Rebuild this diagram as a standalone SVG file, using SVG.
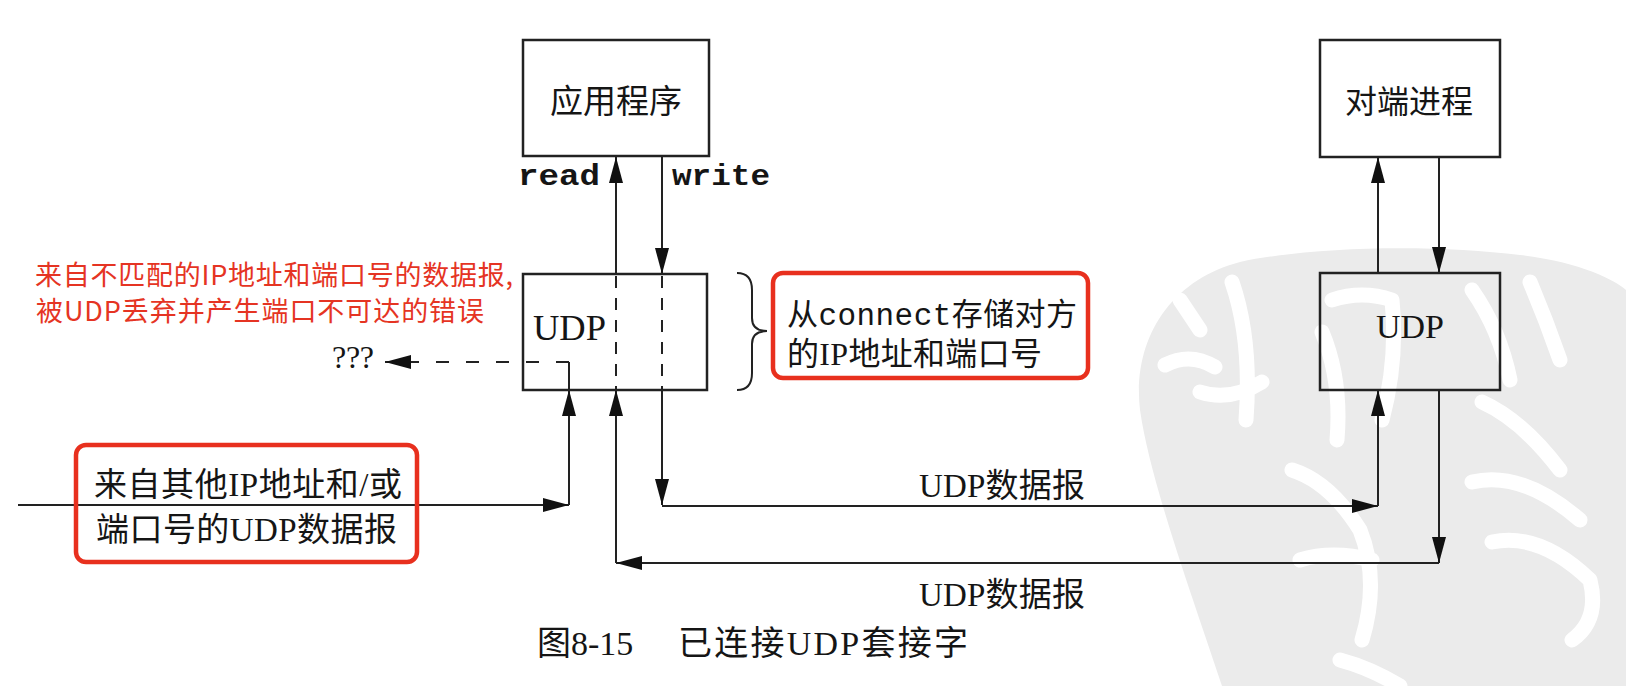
<svg xmlns="http://www.w3.org/2000/svg" width="1626" height="686" viewBox="0 0 1626 686">
<style>
.box{fill:none;stroke:#222;stroke-width:2.5}
.ln{fill:none;stroke:#222;stroke-width:2}
.dash{fill:none;stroke:#222;stroke-width:2;stroke-dasharray:12 10}
.hdash{fill:none;stroke:#222;stroke-width:2;stroke-dasharray:13 17}
.red{fill:none;stroke:#e8301e;stroke-width:4.5}
.t{font-family:"Liberation Serif","Noto Sans CJK SC",serif;fill:#151515}
.mono{font-family:"Liberation Mono",monospace;fill:#151515;font-weight:bold}
.mono2{font-family:"Liberation Mono",monospace;fill:#151515;font-weight:normal}
.rt{font-family:"Noto Sans CJK SC",sans-serif;fill:#e53423}
.wm{fill:none;stroke:#fff;stroke-width:15;stroke-linecap:round;stroke-linejoin:round}
</style>
<defs>
<marker id="ah" markerUnits="userSpaceOnUse" markerWidth="26" markerHeight="14" refX="26" refY="7" orient="auto">
<path d="M0,0 L26,7 L0,14 Z" fill="#111"/>
</marker>
</defs>
<rect width="1626" height="686" fill="#fff"/>
<g id="watermark">
<path d="M1222,686 C1190,590 1150,480 1140,410 C1132,340 1170,280 1240,262 C1320,245 1440,245 1520,255 C1580,262 1615,280 1626,290 L1626,686 Z" fill="#ebebeb"/>
<path class="wm" d="M1180,300 L1200,330 M1165,365 Q1190,352 1215,367 M1232,282 Q1252,340 1246,420 M1200,392 Q1230,402 1262,382 M1332,300 Q1362,290 1392,300 Q1398,360 1382,420 M1322,332 Q1342,380 1337,440 M1472,290 Q1500,330 1510,380 M1530,282 Q1546,320 1560,360 M1292,470 Q1330,482 1360,530 Q1380,580 1362,640 M1300,560 Q1332,550 1372,560 M1482,402 Q1522,420 1560,470 M1472,482 Q1522,470 1580,520 M1492,542 Q1540,532 1590,580 Q1600,620 1572,640 M1340,660 Q1370,668 1400,686"/>
</g>
<g id="connectors">
<line class="ln" x1="616" y1="274" x2="616" y2="157" marker-end="url(#ah)"/>
<line class="dash" x1="616" y1="276" x2="616" y2="390"/>
<line class="ln" x1="616" y1="563" x2="616" y2="390" marker-end="url(#ah)"/>
<line class="ln" x1="662" y1="157" x2="662" y2="274" marker-end="url(#ah)"/>
<line class="dash" x1="662" y1="276" x2="662" y2="390"/>
<line class="ln" x1="662" y1="390" x2="662" y2="505" marker-end="url(#ah)"/>
<line class="ln" x1="18" y1="505" x2="569" y2="505" marker-end="url(#ah)"/>
<line class="ln" x1="569" y1="505" x2="569" y2="390" marker-end="url(#ah)"/>
<line class="ln" x1="569" y1="390" x2="569" y2="362"/>
<line class="hdash" x1="569" y1="362" x2="385" y2="362" marker-end="url(#ah)"/>
<line class="ln" x1="662" y1="506" x2="1378" y2="506" marker-end="url(#ah)"/>
<line class="ln" x1="1378" y1="506" x2="1378" y2="390" marker-end="url(#ah)"/>
<line class="ln" x1="1378" y1="273" x2="1378" y2="157" marker-end="url(#ah)"/>
<line class="ln" x1="1439" y1="157" x2="1439" y2="273" marker-end="url(#ah)"/>
<line class="ln" x1="1439" y1="390" x2="1439" y2="563" marker-end="url(#ah)"/>
<line class="ln" x1="1439" y1="563" x2="616" y2="563" marker-end="url(#ah)"/>
</g>
<g id="app">
<rect class="box" x="523" y="40" width="186" height="116"/>
<text class="t" x="616" y="113" font-size="33" text-anchor="middle">应用程序</text>
</g>
<g id="udp-left">
<rect class="box" x="523" y="274" width="184" height="116"/>
<text class="t" x="533" y="340" font-size="36" textLength="73" lengthAdjust="spacingAndGlyphs">UDP</text>
</g>
<g id="peer">
<rect class="box" x="1320" y="40" width="180" height="117"/>
<text class="t" x="1409" y="113" font-size="32" text-anchor="middle">对端进程</text>
</g>
<g id="udp-right">
<rect class="box" x="1320" y="273" width="180" height="117"/>
<text class="t" x="1410" y="338" font-size="34" text-anchor="middle">UDP</text>
</g>
<g id="labels">
<text class="mono" x="518" y="185" font-size="30" textLength="82" lengthAdjust="spacingAndGlyphs">read</text>
<text class="mono" x="672" y="185" font-size="30" textLength="98" lengthAdjust="spacingAndGlyphs">write</text>
<text class="t" x="332" y="368" font-size="32" textLength="42">???</text>
<text class="t" x="919" y="497" font-size="33" textLength="166">UDP数据报</text>
<text class="t" x="919" y="606" font-size="33" textLength="166">UDP数据报</text>
</g>
<g id="note-connect">
<path class="ln" d="M737,273 Q752,273 752,290 L752,318 Q752,331 767,331 Q752,331 752,344 L752,373 Q752,390 737,390"/>
<rect class="red" x="773" y="273" width="315" height="105" rx="10"/>
<text class="t" x="787" y="325" font-size="31" textLength="290">从<tspan class="mono2">connect</tspan>存储对方</text>
<text class="t" x="787" y="365" font-size="32" textLength="255">的IP地址和端口号</text>
</g>
<g id="note-other">
<rect class="red" x="76" y="445" width="341" height="117" rx="10"/>
<text class="t" x="94" y="496" font-size="33" textLength="308">来自其他IP地址和/或</text>
<text class="t" x="96" y="541" font-size="33" textLength="301">端口号的UDP数据报</text>
</g>
<g id="note-mismatch">
<text class="rt" x="35" y="285" font-size="27" textLength="478">来自不匹配的IP地址和端口号的数据报,</text>
<text class="rt" x="36" y="321" font-size="27" textLength="448">被UDP丢弃并产生端口不可达的错误</text>
</g>
<g id="caption">
<text class="t" x="537" y="655" font-size="34">图8-15</text>
<text class="t" x="678" y="655" font-size="34" textLength="290">已连接UDP套接字</text>
</g>
</svg>
